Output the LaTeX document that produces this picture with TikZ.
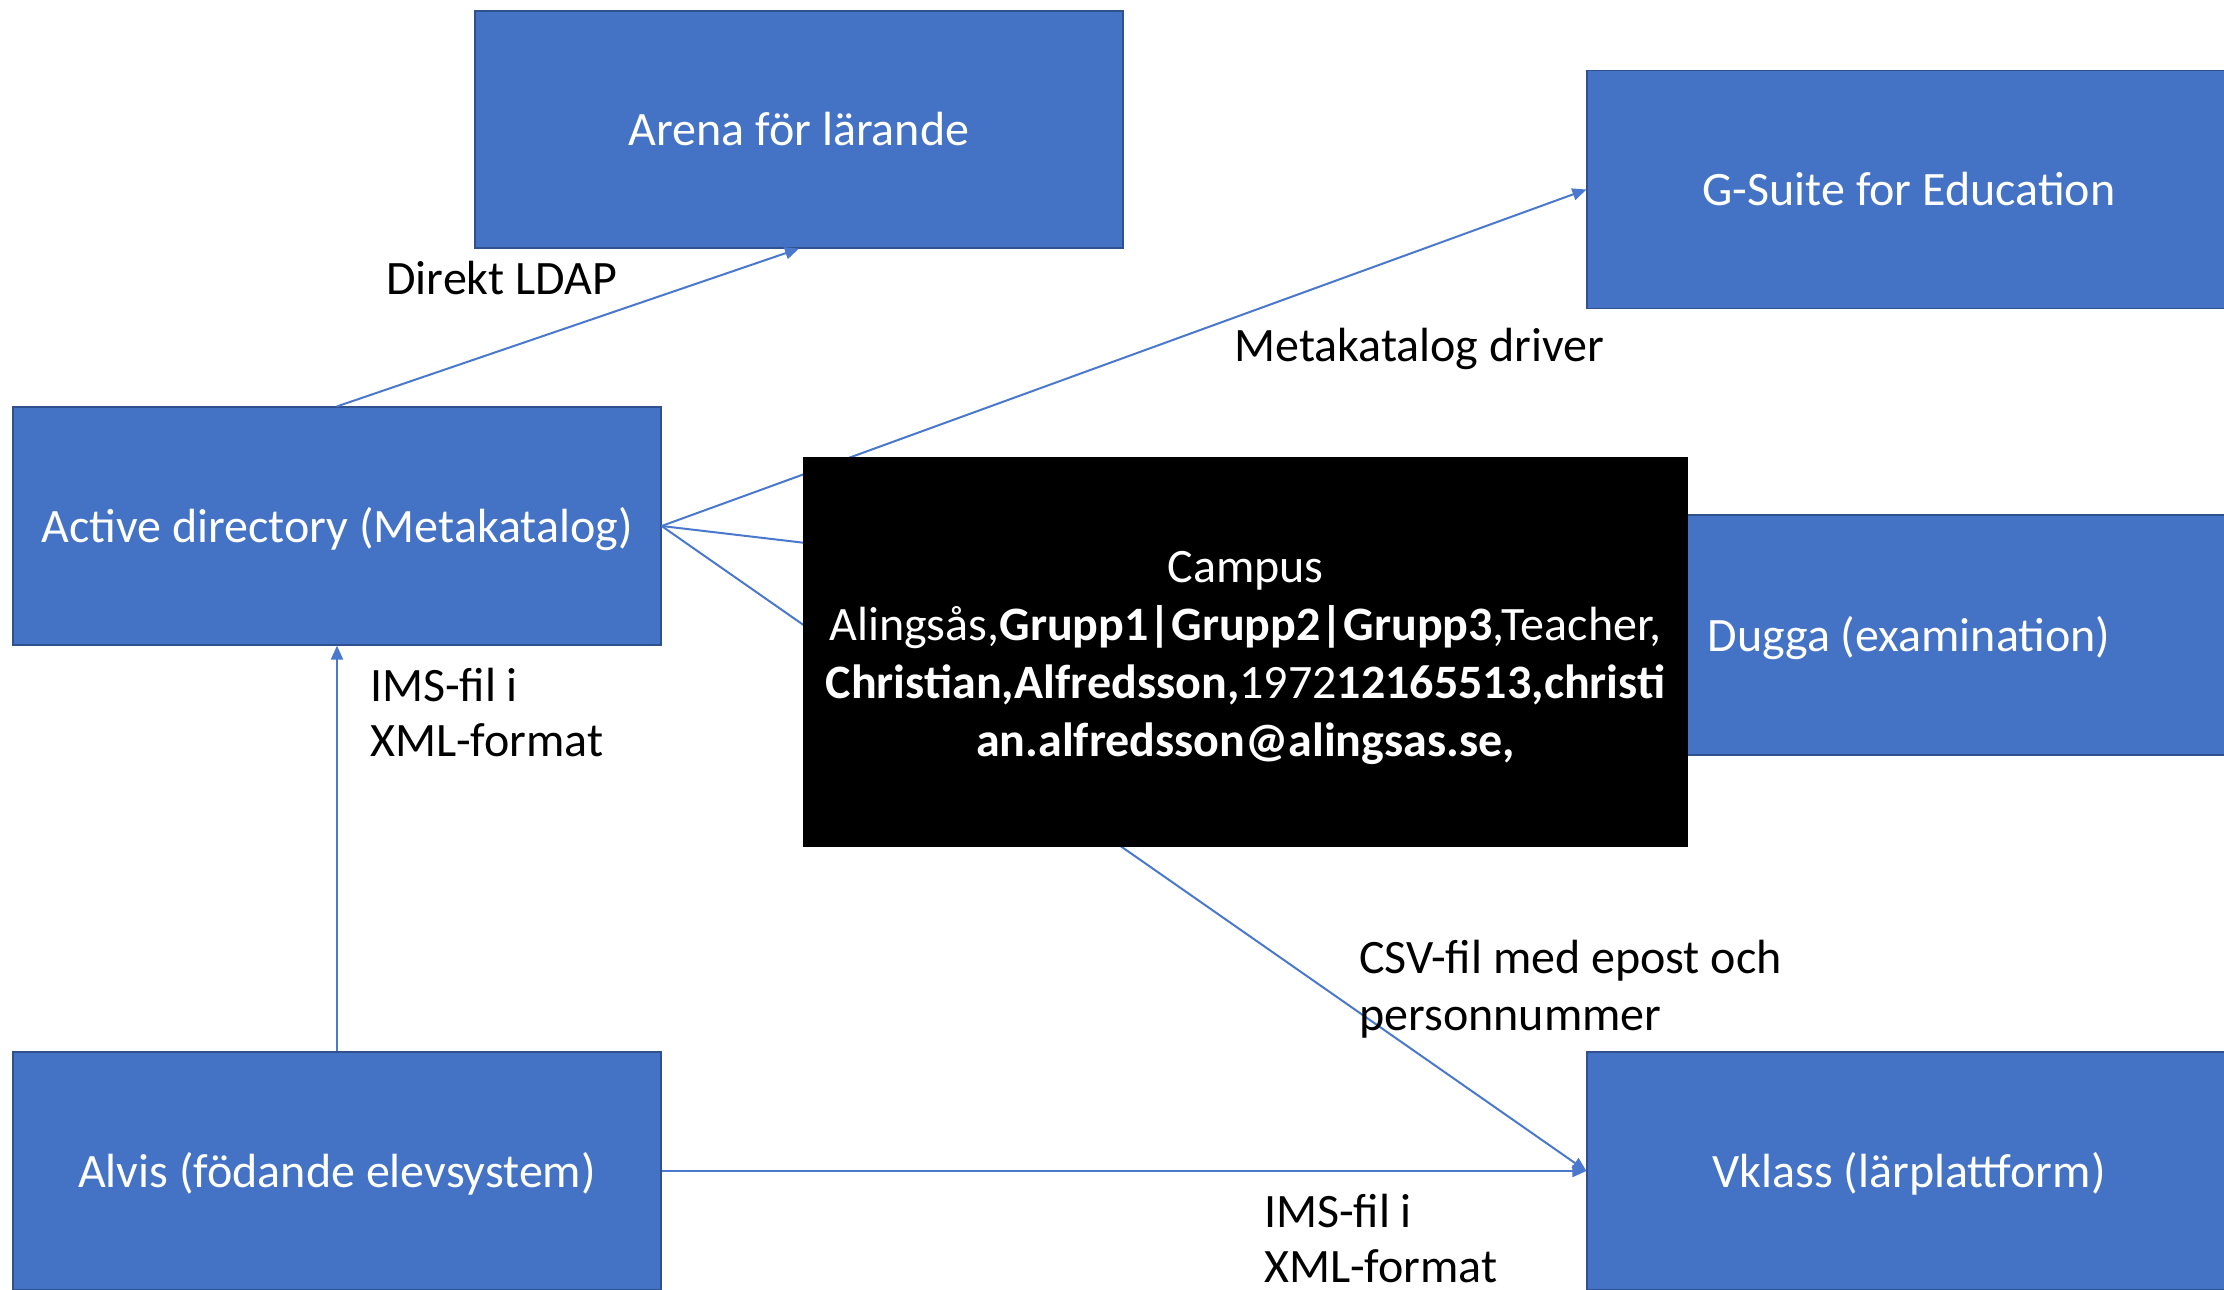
\documentclass[tikz,border=0pt]{standalone}
\usepackage{fontspec}
\setmainfont{Carlito}
\usetikzlibrary{arrows.meta}
\definecolor{boxblue}{HTML}{4472C4}
\definecolor{boxedge}{HTML}{2F528F}
\definecolor{lineblue}{HTML}{4A78CC}
\begin{document}
\begin{tikzpicture}[x=0.5pt,y=-0.5pt,
 sysbox/.style={draw=boxedge, line width=0.6pt, fill=boxblue, text=white, minimum width=324pt, minimum height=119pt, inner sep=0pt, text height=16pt, text depth=0pt, font=\fontsize{24}{29}\selectfont},
 conn/.style={draw=lineblue, line width=1pt, -{Triangle[length=7pt,width=6pt]}},
 lbl/.style={anchor=base west, inner sep=0pt, font=\fontsize{24}{29}\selectfont},
 blackbox/.style={fill=black, minimum width=442.5pt, minimum height=195pt, inner sep=0pt},
 blacktext/.style={text=white, inner sep=0pt, align=center, font=\fontsize{24}{29}\selectfont}]
\useasboundingbox (0,0) rectangle (2224,1290);
\clip (0,0) rectangle (2224,1290);
\fill[white] (0,0) rectangle (2224,1290);
\node[sysbox, minimum height=118.5pt] (arena) at (799,129.5) {Arena för lärande};
\node[sysbox, minimum width=322pt] (gsuite) at (1909,189.5) {G-Suite for Education};
\node[sysbox] (ad) at (337,526) {Active directory (Metakatalog)};
\node[sysbox, minimum width=322pt, minimum height=120pt] (dugga) at (1909,635) {Dugga (examination)};
\node[sysbox] (alvis) at (337,1171) {Alvis (födande elevsystem)};
\node[sysbox, minimum width=322pt] (vklass) at (1909,1171) {Vklass (lärplattform)};
\draw[conn] (ad.north) -- (arena.south);
\draw[conn] (ad.east) -- (gsuite.west);
\draw[conn] (ad.east) -- (dugga.west);
\draw[conn] (ad.east) -- (vklass.west);
\draw[conn] (alvis.north) -- (ad.south);
\draw[conn] (alvis.east) -- (vklass.west);
\node[blackbox] (campus) at (1245.5,652) {};
\node[blacktext] (campustext) at ([yshift=-2.75pt]campus.center) {Campus\\Alingsås,\textbf{Grupp1|Grupp2|Grupp3},Teacher,\\\textbf{Christian,Alfredsson,}1972\textbf{12165513,christi}\\\textbf{an.alfredsson@alingsas.se,}};
\node[lbl] (l1) at (386,294) {Direkt LDAP};
\node[lbl] (l2) at (1234,361) {Metakatalog driver};
\node[lbl] (l3a) at (370,701) {IMS-fil i};
\node[lbl] (l3b) at (370,756) {XML-format};
\node[lbl] (l4a) at (1359,973) {CSV-fil med epost och};
\node[lbl] (l4b) at (1359,1030) {personnummer};
\node[lbl] (l5a) at (1264,1227) {IMS-fil i};
\node[lbl] (l5b) at (1264,1282) {XML-format};
\end{tikzpicture}
\end{document}
